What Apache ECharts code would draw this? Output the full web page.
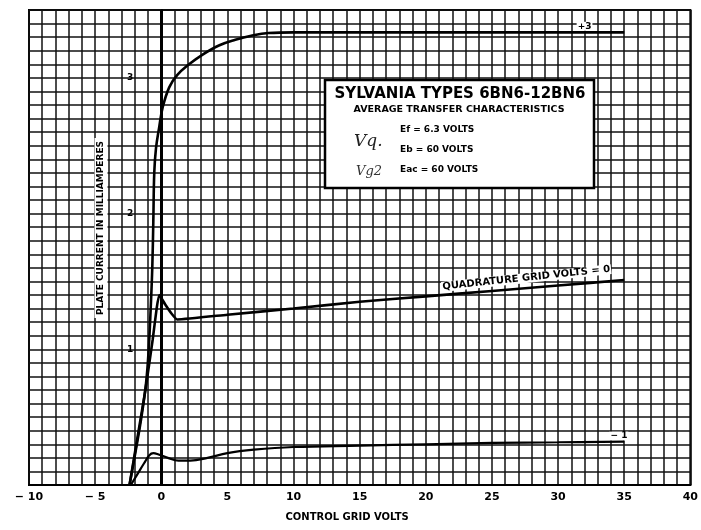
<!DOCTYPE html>
<html>
<head>
<meta charset="utf-8">
<script src="https://cdn.jsdelivr.net/npm/echarts@6/dist/echarts.min.js"></script>
<style>
html,body{margin:0;padding:0;background:#fff;}
#chart{width:701px;height:530px;}
</style>
</head>
<body>
<div id="chart"></div>
<script>
// ---- data (control grid volts, plate current mA) ----
const plus3Volts = [-2.4,-1.9,-1.5,-1.15,-0.95,-0.8,-0.68,-0.6,-0.53,-0.4,-0.15,0.1,0.6,1.2,2.1,3.1,4.4,5.6,6.8,8.1,10,35];
const plus3Ma    = [0,0.27,0.5,0.75,1.0,1.3,1.6,1.95,2.3,2.48,2.64,2.78,2.93,3.02,3.1,3.17,3.24,3.28,3.31,3.33,3.335,3.335];
const zeroVolts  = [-2.4,-1.8,-1.2,-0.65,-0.35,-0.15,0.3,0.8,1.2,5,10,15,20,25,30,35];
const zeroMa     = [0,0.35,0.7,1.07,1.3,1.4,1.33,1.26,1.22,1.255,1.3,1.35,1.39,1.43,1.47,1.51];
const minus1Volts= [-2.3,-1.8,-1.3,-0.9,-0.6,-0.2,0.5,1.3,2.2,3.5,5,7,10,15,20,25,30,35];
const minus1Ma   = [0,0.08,0.16,0.22,0.235,0.225,0.2,0.18,0.18,0.2,0.235,0.26,0.28,0.29,0.3,0.31,0.315,0.32];
const xTickLabels = {"-10":"− 10","-5":"− 5","0":"0","5":"5","10":"10","15":"15","20":"20","25":"25","30":"30","35":"35","40":"40"};
const yTickLabels = {"1":"1","2":"2","3":"3"};
const curveLabels = ["+3","QUADRATURE GRID VOLTS = 0","− 1"];

const pairs = (xs, ys) => xs.map((x, i) => [x, ys[i]]);
const FONT = '"DejaVu Sans", sans-serif';

const chart = echarts.init(document.getElementById('chart'), null, {renderer:'canvas'});
const lineStyle = {color:'#000', width:2.6};
const lbl = (t, extra) => Object.assign({show:true,formatter:t,color:'#000',fontFamily:FONT,fontWeight:'bold',fontSize:9,backgroundColor:'#fff',padding:[0,1]}, extra||{});

const option = {
  backgroundColor:'#fff',
  animation:false,
  grid:{left:29,right:6,top:10,bottom:45,show:true,borderColor:'#000',borderWidth:2,backgroundColor:'#fff'},
  xAxis:{
    type:'value',min:-10,max:40,interval:1,
    axisLine:{show:true,lineStyle:{color:'#000',width:2}},
    axisTick:{show:false},
    splitLine:{show:true,lineStyle:{color:'#111',width:1.5}},
    axisLabel:{
      color:'#000',fontFamily:FONT,fontWeight:'bold',fontSize:11,margin:7,
      formatter:v=>{const k=String(Math.round(v));return (Math.abs(v-Math.round(v))<1e-6 && xTickLabels[k]!==undefined)?xTickLabels[k]:'';}
    },
    name:'CONTROL GRID VOLTS',nameLocation:'middle',nameGap:27,
    nameTextStyle:{color:'#000',fontFamily:FONT,fontWeight:'bold',fontSize:10,padding:[0,25,0,0]}
  },
  yAxis:{
    type:'value',min:0,max:3.5,interval:0.1,
    axisLine:{show:true,lineStyle:{color:'#000',width:2}},
    axisTick:{show:false},
    splitLine:{show:true,lineStyle:{color:'#111',width:1.5}},
    axisLabel:{
      inside:true,margin:98,color:'#000',fontFamily:FONT,fontWeight:'bold',fontSize:9,
      formatter:v=>{const r=Math.round(v);return (Math.abs(v-r)<1e-6 && yTickLabels[String(r)])?yTickLabels[String(r)]:'';}
    }
  },
  series:[
    {type:'line',data:pairs(plus3Volts,plus3Ma),smooth:0.4,showSymbol:false,lineStyle:lineStyle,z:5,
     markLine:{silent:true,symbol:'none',label:{show:false},lineStyle:{color:'#000',width:3,type:'solid'},data:[{xAxis:0}]},
     markPoint:{symbol:'circle',symbolSize:0,data:[{coord:[32,3.38],label:lbl(curveLabels[0])}]}
    },
    {type:'line',data:pairs(zeroVolts,zeroMa),smooth:0.15,showSymbol:false,lineStyle:lineStyle,z:5,
     markPoint:{symbol:'circle',symbolSize:0,data:[{coord:[27.6,1.525],label:lbl(curveLabels[1],{rotate:6,fontSize:10})}]}
    },
    {type:'line',data:pairs(minus1Volts,minus1Ma),smooth:0.4,showSymbol:false,lineStyle:{color:'#000',width:2.2},z:5,
     markPoint:{symbol:'circle',symbolSize:0,data:[{coord:[34.6,0.36],label:lbl(curveLabels[2])}]}
    }
  ],
  graphic:[
    {type:'text',x:101,y:228,rotation:Math.PI/2,z:50,
     style:{text:'PLATE CURRENT IN MILLIAMPERES',fill:'#000',font:'bold 9px "DejaVu Sans", sans-serif',align:'center',verticalAlign:'middle',backgroundColor:'#fff',padding:[2,3]}},
    {type:'rect',z:60,shape:{x:325,y:80,width:269,height:108},style:{fill:'#fff',stroke:'#000',lineWidth:2.5}},
    {type:'text',z:61,x:460,y:94,style:{text:'SYLVANIA TYPES 6BN6-12BN6',fill:'#000',font:'bold 15px "DejaVu Sans", sans-serif',align:'center',verticalAlign:'middle'}},
    {type:'text',z:61,x:459,y:110,style:{text:'AVERAGE TRANSFER CHARACTERISTICS',fill:'#000',font:'bold 9.5px "DejaVu Sans", sans-serif',align:'center',verticalAlign:'middle'}},
    {type:'text',z:61,x:400,y:130,style:{text:'Ef = 6.3 VOLTS',fill:'#000',font:'bold 9px "DejaVu Sans", sans-serif',align:'left',verticalAlign:'middle'}},
    {type:'text',z:61,x:400,y:150,style:{text:'Eb = 60 VOLTS',fill:'#000',font:'bold 9px "DejaVu Sans", sans-serif',align:'left',verticalAlign:'middle'}},
    {type:'text',z:61,x:400,y:170,style:{text:'Eac = 60 VOLTS',fill:'#000',font:'bold 9px "DejaVu Sans", sans-serif',align:'left',verticalAlign:'middle'}},
    {type:'text',z:61,x:354,y:142,style:{text:'Vq.',fill:'#222',font:'italic 17px "DejaVu Serif", serif',align:'left',verticalAlign:'middle'}},
    {type:'text',z:61,x:356,y:172,style:{text:'Vg2',fill:'#333',font:'italic 13px "DejaVu Serif", serif',align:'left',verticalAlign:'middle'}}
  ]
};
chart.setOption(option);
</script>
</body>
</html>
